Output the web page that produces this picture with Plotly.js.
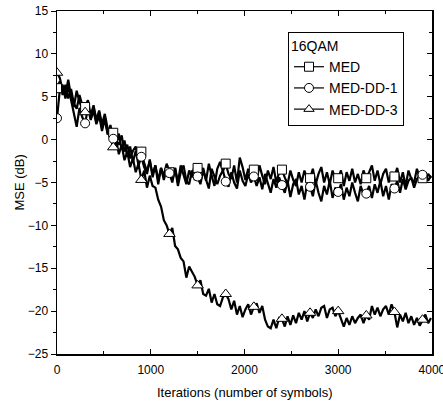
<!DOCTYPE html>
<html>
<head>
<meta charset="utf-8">
<script src="https://cdn.plot.ly/plotly-3.0.1.min.js"></script>
<style>html,body{margin:0;padding:0;background:#fff;}#chart{width:443px;height:412px;}</style>
</head>
<body>
<div id="chart"></div>
<script>
// sample step of the curves (iterations)
const step = 30;
const markerEvery = 300;

const seriesNames = ["MED", "MED-DD-1", "MED-DD-3"];
const seriesSymbols = ["square", "circle", "triangle-up"];
const xTickVals = [0, 1000, 2000, 3000, 4000];

// MSE (dB), one value every 30 iterations (0 .. 3990)
const med = [
  6.0, 6.8, 5.2, 6.4, 4.8, 5.9, 4.2, 3.6, 5.2, 4.0,
  3.8, 4.6, 2.8, 4.0, 2.3, 3.4, 1.8, 3.0, 1.3, 1.1,
  0.8, -0.2, -0.6, 0.5, -1.4, -0.6, -2.2, -1.3, -0.8, -2.4,
  -1.4, -2.7, -3.7, -2.5, -4.0, -3.0, -4.7, -3.3, -4.2, -2.8,
  -3.8, -4.7, -3.3, -5.0, -3.0, -4.2, -5.2, -3.6, -4.4, -2.8,
  -3.3, -4.4, -3.3, -4.8, -2.8, -4.2, -5.4, -3.4, -2.6, -3.7,
  -2.8, -4.0, -4.6, -3.0, -5.0, -2.1, -3.2, -4.7, -3.4, -4.4,
  -3.5, -4.8, -3.0, -4.2, -5.2, -3.6, -4.6, -3.2, -5.0, -3.8,
  -3.5, -4.4, -5.2, -3.6, -4.7, -5.4, -3.8, -5.0, -3.6, -4.6,
  -4.5, -3.4, -5.2, -4.0, -3.2, -5.0, -3.8, -5.2, -3.6, -4.6,
  -4.5, -3.6, -5.4, -3.8, -4.8, -3.4, -5.0, -4.0, -5.2, -3.6,
  -4.5, -3.8, -3.0, -4.8, -3.6, -5.2, -4.0, -3.4, -5.0, -3.8,
  -4.3, -3.3, -5.0, -3.8, -5.4, -3.6, -4.6, -5.0, -3.4, -4.4,
  -4.5, -3.8, -4.8, -4.2
];
const medDD1 = [
  2.5, 5.8, 6.4, 4.8, 6.2, 4.6, 2.8, 1.5, 3.7, 2.6,
  1.9, 3.7, 2.3, 3.4, 1.8, 2.8, 1.0, 2.4, 0.6, 1.7,
  0.1, -0.7, 0.7, -1.2, -0.1, -2.0, -0.8, -2.6, -1.3, -3.0,
  -2.0, -3.2, -4.0, -2.3, -4.4, -3.0, -5.2, -3.3, -4.7, -3.0,
  -3.9, -5.0, -3.3, -5.4, -3.8, -3.0, -4.8, -5.2, -3.6, -4.7,
  -4.3, -5.2, -3.6, -4.7, -5.7, -3.4, -4.4, -5.2, -4.2, -3.6,
  -4.9, -5.5, -3.8, -5.0, -5.7, -3.6, -4.8, -5.4, -4.0, -5.0,
  -4.3, -5.4, -4.4, -5.8, -4.0, -5.2, -6.2, -4.6, -5.6, -4.4,
  -5.3, -6.2, -4.8, -6.7, -5.2, -4.6, -6.4, -5.4, -7.0, -5.0,
  -5.5, -6.6, -4.8, -6.2, -7.2, -5.4, -6.4, -4.8, -6.8, -5.6,
  -6.1, -5.2, -7.0, -5.6, -6.6, -5.0, -6.2, -7.2, -5.4, -6.4,
  -6.3, -5.4, -6.8, -5.2, -6.2, -4.8, -6.6, -5.4, -7.0, -5.2,
  -5.7, -4.8, -6.2, -4.6, -5.8, -4.8, -4.4, -5.6, -4.6, -4.2,
  -4.1, -4.8, -4.0, -4.5
];
const medDD3 = [
  7.8, 7.2, 5.8, 5.3, 7.0, 5.0, 3.8, 5.7, 4.4, 3.6,
  3.2, 4.2, 2.4, 3.8, 2.0, 3.2, 1.4, 2.6, 0.8, 0.3,
  -0.9, 0.0, -1.7, -0.6, -2.4, -1.4, -3.2, -2.2, -3.8, -2.8,
  -4.7, -3.6, -5.6, -4.2, -5.4, -5.6, -7.0, -7.8, -9.4, -10.0,
  -11.0, -10.3, -12.4, -12.8, -13.8, -14.2, -16.1, -14.8, -15.4, -16.0,
  -17.0, -16.4, -18.0, -18.2, -17.4, -19.0, -18.0, -19.2, -19.4, -18.4,
  -18.0, -18.6, -19.8, -18.8, -20.4, -19.4, -20.7, -19.8, -19.2, -20.4,
  -19.5, -19.1, -20.2, -19.4, -21.0, -21.8, -22.0, -21.0, -22.0, -20.8,
  -20.9, -21.8, -20.6, -21.6, -20.5, -21.4, -20.2, -21.0, -20.0, -21.2,
  -20.2, -20.8, -19.8, -20.6, -19.6, -19.4, -20.8, -19.8, -19.6, -20.6,
  -20.0, -20.8, -21.8, -20.8, -21.6, -20.6, -21.4, -20.8, -20.4, -21.4,
  -20.5, -21.0, -19.4, -20.4, -19.6, -20.6, -19.8, -19.4, -20.4, -19.2,
  -20.1, -21.9, -20.4, -21.2, -20.2, -21.4, -20.6, -21.6, -20.8, -21.7,
  -21.0, -20.4, -21.4, -20.8
];

const seriesValues = [med, medDD1, medDD3];
const iterations = med.map((_, i) => i * step);

const FONT = '"Liberation Sans Narrow", "Arial Narrow", "Liberation Sans", Arial, sans-serif';
const traces = [];

seriesValues.forEach((vals, s) => {
  traces.push({
    x: iterations, y: vals, type: 'scatter', mode: 'lines',
    line: {color: '#000', width: 2.2}, showlegend: false, hoverinfo: 'skip'
  });
});
seriesValues.forEach((vals, s) => {
  const mx = [], my = [];
  iterations.forEach((it, i) => { if (it % markerEvery === 0) { mx.push(it); my.push(vals[i]); } });
  traces.push({
    x: mx, y: my, type: 'scatter', mode: 'markers',
    marker: {symbol: seriesSymbols[s], size: s === 2 ? 10 : 9, color: '#fff', line: {color: '#000', width: 1}},
    showlegend: false, hoverinfo: 'skip'
  });
});
seriesNames.forEach((name, s) => {
  traces.push({
    x: [null], y: [null], type: 'scatter', mode: 'lines+markers', name: name, yaxis: 'y2',
    line: {color: '#000', width: 1.2},
    marker: {symbol: seriesSymbols[s], size: 9, color: '#fff', line: {color: '#000', width: 1}}
  });
});

const layout = {
  width: 443, height: 412,
  margin: {l: 57, r: 11, t: 11, b: 58},
  paper_bgcolor: '#fff', plot_bgcolor: '#fff',
  font: {family: FONT, size: 12, color: '#000'},
  showlegend: true,
  xaxis: {
    range: [0, 4001], tickvals: xTickVals,
    showline: true, linecolor: '#000', linewidth: 1.5, mirror: 'ticks',
    ticks: 'inside', ticklen: 5, tickwidth: 1, tickcolor: '#000',
    minor: {tickvals: [500, 1500, 2500, 3500], ticks: 'inside', ticklen: 3, tickcolor: '#000'},
    showgrid: false, zeroline: false, ticklabelstandoff: 4, ticklabeloverflow: 'allow',
    tickfont: {family: FONT, size: 12}
  },
  yaxis: {
    range: [-25, 15], dtick: 5, tick0: -25,
    showline: true, linecolor: '#000', linewidth: 1.5, mirror: false,
    ticks: 'outside', ticklen: 5, tickwidth: 1, tickcolor: '#000',
    minor: {dtick: 2.5, ticks: 'outside', ticklen: 3, tickcolor: '#000'},
    showgrid: false, zeroline: false,
    tickfont: {family: FONT, size: 12}
  },
  yaxis2: {
    overlaying: 'y', side: 'right', range: [-25, 15], dtick: 5, tick0: -25,
    showline: true, linecolor: '#000', linewidth: 1.5,
    ticks: 'inside', ticklen: 5, tickwidth: 1, tickcolor: '#000',
    minor: {dtick: 2.5, ticks: 'inside', ticklen: 3, tickcolor: '#000'},
    showticklabels: false, showgrid: false, zeroline: false
  },
  annotations: [
    {text: 'Iterations (number of symbols)', xref: 'paper', yref: 'paper', x: 0.5, y: -0.1108,
     xanchor: 'center', yanchor: 'middle', showarrow: false, font: {family: FONT, size: 13}},
    {text: 'MSE (dB)', xref: 'paper', yref: 'paper', x: -0.0987, y: 0.5, textangle: -90,
     xanchor: 'center', yanchor: 'middle', showarrow: false, font: {family: FONT, size: 13}}
  ],
  legend: {
    x: 0.616, y: 0.939, xanchor: 'left', yanchor: 'top',
    bgcolor: '#fff', bordercolor: '#000', borderwidth: 1,
    font: {family: FONT, size: 14},
    title: {text: '16QAM', font: {family: FONT, size: 14}},
    tracegroupgap: 0, itemwidth: 30
  }
};

Plotly.newPlot('chart', traces, layout, {displayModeBar: false, staticPlot: true});
</script>
</body>
</html>
